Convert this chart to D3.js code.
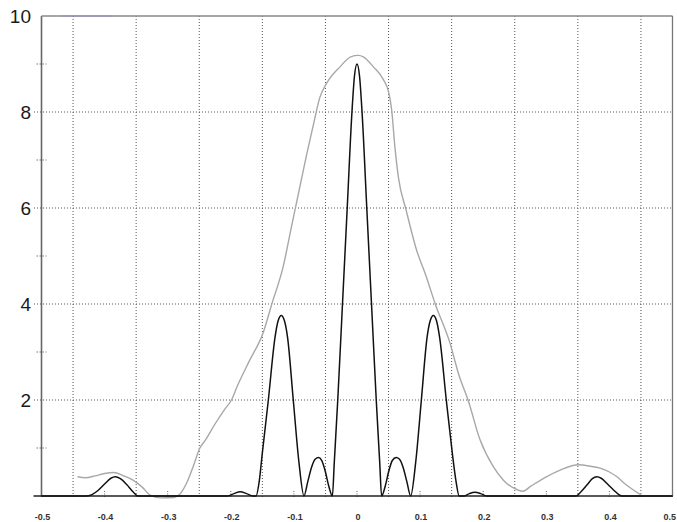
<!DOCTYPE html>
<html>
<head>
<meta charset="utf-8">
<script src="https://cdn.jsdelivr.net/npm/d3@7"></script>
<style>
  html, body { margin: 0; padding: 0; background: #fff; }
  svg { display: block; }
</style>
</head>
<body>
<svg id="chart" width="677" height="522"></svg>
<script>
// ---- data ----
const xTickValues = [-0.5, -0.4, -0.3, -0.2, -0.1, 0, 0.1, 0.2, 0.3, 0.4, 0.5];
const xTickLabels = ["-0.5", "-0.4", "-0.3", "-0.2", "-0.1", "0", "0.1", "0.2", "0.3", "0.4", "0.5"];
const xGridValues = [-0.45, -0.35, -0.25, -0.15, -0.05, 0.05, 0.15, 0.25, 0.35, 0.45];
const yTickValues = [2, 4, 6, 8, 10];
const yTickLabels = ["2", "4", "6", "8", "10"];
const yMinorValues = [1, 3, 5, 7, 9];

// black curve (sharp multi-peak pattern)
const blackX = [-0.5, -0.43, -0.42, -0.41, -0.40, -0.39, -0.383, -0.375, -0.365, -0.355, -0.347,
  -0.205, -0.195, -0.185, -0.175, -0.165,
  -0.16, -0.155, -0.15, -0.1405, -0.13, -0.125, -0.12, -0.115, -0.11, -0.101, -0.092, -0.084,
  -0.078, -0.072, -0.066, -0.061, -0.056, -0.05, -0.045,
  -0.039, -0.036, -0.0305, -0.023, -0.0155, -0.008, -0.004, 0, 0.004, 0.008, 0.0155, 0.023, 0.0305, 0.036,
  0.039, 0.045, 0.05, 0.056, 0.062, 0.067, 0.073, 0.079,
  0.085, 0.093, 0.102, 0.111, 0.116, 0.121, 0.126, 0.131, 0.1415, 0.151, 0.157, 0.162,
  0.17, 0.178, 0.187, 0.196, 0.205,
  0.347, 0.355, 0.365, 0.373, 0.380, 0.387, 0.397, 0.407, 0.415, 0.42, 0.5];
const blackY = [0, 0, 0.03, 0.12, 0.25, 0.37, 0.40, 0.36, 0.24, 0.09, 0,
  0, 0.05, 0.09, 0.05, 0,
  0, 0.3, 0.9, 2.0, 3.3, 3.65, 3.76, 3.65, 3.3, 2.0, 0.7, 0,
  0.3, 0.6, 0.77, 0.8, 0.74, 0.5, 0.22,
  0, 0.7, 2.0, 4.0, 6.0, 8.0, 8.75, 9.0, 8.75, 8.0, 6.0, 4.0, 2.0, 0.7,
  0, 0.22, 0.5, 0.74, 0.8, 0.77, 0.6, 0.3,
  0, 0.7, 2.0, 3.3, 3.65, 3.76, 3.65, 3.3, 2.0, 0.9, 0.3, 0,
  0, 0.05, 0.08, 0.05, 0,
  0, 0.09, 0.24, 0.36, 0.40, 0.37, 0.25, 0.12, 0.03, 0, 0];

// grey hand-traced envelope
const greyX = [-0.443, -0.43, -0.415, -0.40, -0.385, -0.37, -0.355, -0.34, -0.328, -0.31, -0.29, -0.28,
  -0.27, -0.26, -0.249, -0.24, -0.225, -0.21, -0.199, -0.19, -0.17, -0.149, -0.135, -0.117, -0.104,
  -0.092, -0.08, -0.068, -0.059, -0.048, -0.027, -0.01, 0.002, 0.01, 0.026, 0.042, 0.05, 0.055,
  0.06, 0.0655, 0.078, 0.0945, 0.109, 0.124, 0.147, 0.162, 0.176, 0.195, 0.216, 0.232, 0.255,
  0.263, 0.275, 0.30, 0.322, 0.351, 0.37, 0.385, 0.40, 0.412, 0.425, 0.438, 0.45];
const greyY = [0.40, 0.38, 0.42, 0.47, 0.49, 0.42, 0.33, 0.18, 0.02, -0.04, -0.03, 0.05,
  0.27, 0.6, 1.0, 1.17, 1.5, 1.8, 2.0, 2.28, 2.83, 3.39, 4.0, 4.78, 5.6,
  6.35, 7.1, 7.8, 8.3, 8.6, 8.94, 9.15, 9.18, 9.15, 8.94, 8.67, 8.42, 8.04,
  7.28, 6.65, 5.95, 5.12, 4.6, 4.0, 3.2, 2.5, 2.0, 1.17, 0.61, 0.33, 0.125,
  0.1, 0.2, 0.4, 0.54, 0.65, 0.62, 0.58, 0.5, 0.4, 0.25, 0.125, 0.02];

// ---- drawing ----
const svg = d3.select("#chart");
const x = d3.scaleLinear().domain([-0.5, 0.5]).range([41.5, 672.5]);
const y = d3.scaleLinear().domain([0, 10]).range([496, 16]);

const gridColor = "#555";

// horizontal grid
svg.append("g").selectAll("line").data(yTickValues.filter(v => v < 10)).join("line")
  .attr("x1", 34).attr("x2", x(0.5))
  .attr("y1", d => y(d)).attr("y2", d => y(d))
  .attr("stroke", gridColor).attr("stroke-width", 1).attr("stroke-dasharray", "1,2");

// vertical grid
svg.append("g").selectAll("line").data(xGridValues).join("line")
  .attr("x1", d => x(d)).attr("x2", d => x(d))
  .attr("y1", y(10)).attr("y2", y(0) + 3)
  .attr("stroke", gridColor).attr("stroke-width", 1).attr("stroke-dasharray", "1,2");

// minor y ticks
svg.append("g").selectAll("line").data(yMinorValues).join("line")
  .attr("x1", x(-0.5) - 5).attr("x2", x(-0.5) + 5)
  .attr("y1", d => y(d)).attr("y2", d => y(d))
  .attr("stroke", "#777").attr("stroke-width", 1).attr("stroke-dasharray", "1.5,1.5");

// small x ticks at labelled positions
svg.append("g").selectAll("line").data(xTickValues).join("line")
  .attr("x1", d => x(d)).attr("x2", d => x(d))
  .attr("y1", y(0) - 5).attr("y2", y(0) + 2)
  .attr("stroke", "#666").attr("stroke-width", 1).attr("stroke-dasharray", "1,1.5");

// frame: left axis, top, right
svg.append("line").attr("x1", x(-0.5)).attr("x2", x(-0.5)).attr("y1", y(10)).attr("y2", y(0))
  .attr("stroke", "#666").attr("stroke-width", 1.6);
svg.append("line").attr("x1", x(-0.5)).attr("x2", x(0.5)).attr("y1", y(10)).attr("y2", y(10))
  .attr("stroke", "#888").attr("stroke-width", 1.4);
svg.append("line").attr("x1", x(-0.5) + 20).attr("x2", x(-0.5) + 70).attr("y1", y(10)).attr("y2", y(10))
  .attr("stroke", "#9a8fc0").attr("stroke-width", 1.2);
svg.append("line").attr("x1", x(0.5)).attr("x2", x(0.5)).attr("y1", y(10)).attr("y2", y(0))
  .attr("stroke", "#777").attr("stroke-width", 1.3);

// grey envelope
const greyData = greyX.map((d, i) => [d, greyY[i]]);
svg.append("path").datum(greyData)
  .attr("fill", "none").attr("stroke", "#a8a8a8").attr("stroke-width", 1.4)
  .attr("d", d3.line().x(d => x(d[0])).y(d => y(d[1])).curve(d3.curveMonotoneX));

// zero baseline
svg.append("line").attr("x1", x(-0.5) - 8).attr("x2", x(0.5)).attr("y1", y(0)).attr("y2", y(0))
  .attr("stroke", "#222").attr("stroke-width", 1.4);

// black pattern
const blackData = blackX.map((d, i) => [d, blackY[i]]);
svg.append("path").datum(blackData)
  .attr("fill", "none").attr("stroke", "#111").attr("stroke-width", 1.5)
  .attr("stroke-linejoin", "round")
  .attr("d", d3.line().x(d => x(d[0])).y(d => y(d[1])).curve(d3.curveMonotoneX));

// y labels
svg.append("g").selectAll("text").data(yTickValues).join("text")
  .attr("x", 31).attr("y", d => y(d) + 7)
  .attr("text-anchor", "end")
  .attr("font-family", "Liberation Sans, Arial, sans-serif")
  .attr("font-size", 19).attr("fill", "#1a1a1a")
  .text((d, i) => yTickLabels[i]);

// x labels (last one pulled inside the page edge)
const lastIdx = xTickValues.length - 1;
svg.append("g").selectAll("text").data(xTickValues).join("text")
  .attr("x", (d, i) => i === lastIdx ? 676 : x(d) + 1).attr("y", 520)
  .attr("text-anchor", (d, i) => i === lastIdx ? "end" : "middle")
  .attr("font-family", "Liberation Sans, Arial, sans-serif")
  .attr("font-size", 9).attr("font-weight", "bold").attr("fill", "#333")
  .text((d, i) => xTickLabels[i]);
</script>
</body>
</html>
